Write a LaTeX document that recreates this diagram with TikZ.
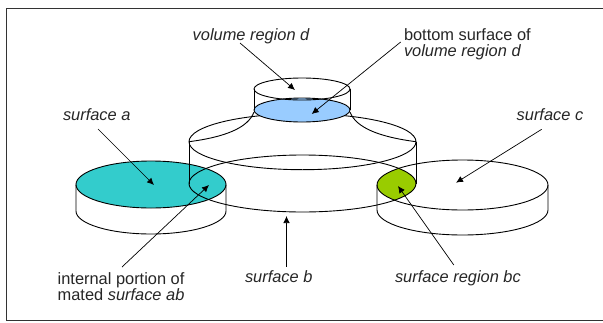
\documentclass[tikz,border=0pt]{standalone}
\usepackage{fontspec}
\setmainfont{Liberation Sans}
\usetikzlibrary{arrows.meta}
\definecolor{tealfill}{HTML}{33CCCC}
\definecolor{bluefill}{HTML}{99CCFF}
\definecolor{greenfill}{HTML}{99CC00}
\tikzset{
  outline/.style={draw=black,line width=0.9pt},
  pointer/.style={draw=black,line width=0.7pt,-{Latex[length=7pt,width=6.5pt]}},
  lbl/.style={anchor=base west,inner sep=0pt,outer sep=0pt,font=\fontsize{16.4}{16}\selectfont,text=black!85},
}
\begin{document}
\begin{tikzpicture}[x=1pt,y=-1pt]
\useasboundingbox (0,0) rectangle (603,322);
\fill[white] (0,0) rectangle (603,322);
\draw[black!80,line width=1.2pt] (603,8.5) -- (6.5,8.5) -- (6.5,320.8) -- (603,320.8);
% left disc
\draw[outline,fill=tealfill] (151,184.5) ellipse [x radius=75,y radius=23.5];
\draw[outline] (76,184.5) -- (76,211) arc [start angle=180,end angle=0,x radius=75,y radius=23] -- (226,184.5);
% green region
\begin{scope}
\clip (462.5,185) ellipse [x radius=85.5,y radius=25];
\fill[greenfill] (302.5,183.5) ellipse [x radius=113.5,y radius=28.5];
\end{scope}
% right disc
\draw[outline] (462.5,185) ellipse [x radius=85.5,y radius=25];
\draw[outline] (377,185) -- (377,210) arc [start angle=180,end angle=0,x radius=85.5,y radius=25] -- (548,185);
% middle body
\draw[outline] (302.5,183.5) ellipse [x radius=113.5,y radius=28.5];
\draw[outline] (302.5,141.7) ellipse [x radius=113.5,y radius=28];
\draw[outline] (189,141.7) -- (189,183.5);
\draw[outline] (416,141.7) -- (416,183.5);
% fillets
\draw[outline] (254,112) .. controls (248,128) and (225,137) .. (189,141.7);
\draw[outline] (350,112) .. controls (356,128) and (380,137) .. (416,141.7);
% small disc
\draw[outline,fill=bluefill] (302,110) ellipse [x radius=48,y radius=12];
\draw[outline] (302,89) ellipse [x radius=48,y radius=11];
\draw[outline] (254,89) -- (254,110);
\draw[outline] (350,89) -- (350,110);
% labels
\node[lbl] (ld) at (192.7,40.5) {\itshape volume region d};
\node[lbl] (lbot1) at (404,40) {bottom surface of};
\node[lbl] (lbot2) at (404,56) {\itshape volume region d};
\node[lbl] (la) at (63,120) {\itshape surface a};
\node[lbl] (lc) at (516.7,120) {\itshape surface c};
\node[lbl] (lab1) at (57.7,284) {internal portion of};
\node[lbl] (lab2) at (57.7,300) {mated \itshape surface ab};
\node[lbl] (lb) at (245,282) {\itshape surface b};
\node[lbl] (lbc) at (395,282) {\itshape surface region bc};
% arrow ends
\coordinate (s1) at (240,43);   \coordinate (e1) at (295,90);
\coordinate (s2) at (400.7,42); \coordinate (e2) at (311.7,114);
\coordinate (s3) at (98,129);   \coordinate (e3) at (154,185);
\coordinate (s4) at (122,267);  \coordinate (e4) at (209,185);
\coordinate (s5) at (286.5,266.7); \coordinate (e5) at (286.5,216);
\coordinate (s6) at (453.8,265); \coordinate (e6) at (398,186);
\coordinate (s7) at (541.7,129.3); \coordinate (e7) at (456,182.7);
\foreach \i in {1,...,7} {\draw[pointer] (s\i) -- (e\i);}
\end{tikzpicture}
\end{document}
